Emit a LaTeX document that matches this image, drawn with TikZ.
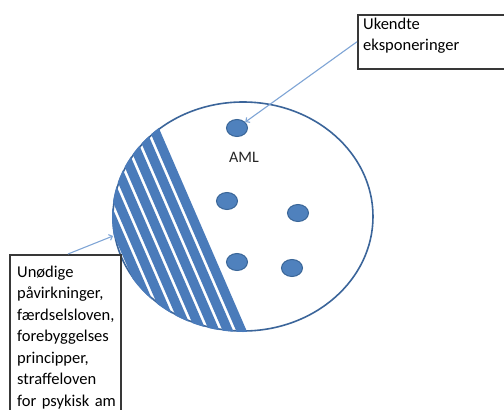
\documentclass[tikz,border=0pt]{standalone}
\usepackage{fontspec}
\setmainfont{Carlito}
\usetikzlibrary{arrows.meta,shapes.geometric}
\definecolor{dotblue}{HTML}{4F81BD}
\definecolor{dotedge}{HTML}{3A6698}
\definecolor{rim}{HTML}{3B659A}
\definecolor{stripeblue}{HTML}{4A7BBA}
\definecolor{pointer}{HTML}{7FA5D6}
\definecolor{boxline}{HTML}{383838}
\begin{document}
\begin{tikzpicture}[x=1pt,y=-1pt,
  note/.style={draw=boxline, line width=1.5pt, inner sep=0pt, fill=white},
  notetext/.style={anchor=base west, inner sep=0pt, text width=150pt, align=left,
    font=\fontsize{16.5}{21.5}\selectfont, text=black},
  agent/.style={ellipse, minimum width=21pt, minimum height=17pt, inner sep=0pt,
    fill=dotblue, draw=dotedge, line width=1pt},
  stripe/.style={stripeblue, line width=9.6pt, line cap=butt},
  pointerline/.style={pointer, line width=1.1pt, -{Straight Barb[length=3pt,width=6pt]}}]
\useasboundingbox (0,0) rectangle (504,410);
\fill[white] (0,0) rectangle (504,410);

% population circle
\node[ellipse, minimum width=260pt, minimum height=229pt, inner sep=0pt,
      draw=rim, line width=1.6pt] (ring) at (243,216.5) {};

% hatched sector on the left side of the circle
\begin{scope}
  \clip (243,216.5) ellipse [x radius=131pt, y radius=115.5pt];
  \foreach \k in {0,...,7}
    \draw[stripe] ({131.5-13.5*\k},77) -- ({244.1-13.5*\k},337);
\end{scope}

% exposures inside the circle
\node[agent] (d1) at (237,128) {};
\node[agent] (d2) at (227,201) {};
\node[agent] (d3) at (298,213) {};
\node[agent] (d4) at (237,262) {};
\node[agent] (d5) at (292,268) {};
\node[font=\fontsize{16}{19}\selectfont, text=black!85] (aml) at (244,157) {AML};

% labels
\node[note, anchor=north west, minimum width=153pt, minimum height=54pt] (ukbox) at (357,14) {};
\node[notetext] (uktext) at (363,29) {Ukendte\\eksponeringer};

\node[note, anchor=north west, minimum width=111pt, minimum height=200pt] (unbox) at (9,254) {};
\node[notetext] (untext) at (17,277) {Unødige\\påvirkninger,\\færdselsloven,\\forebyggelses\\principper,\\straffeloven\\for psykisk am};

% pointers
\coordinate (unstart) at ([xshift=59pt]unbox.north west);
\coordinate (aimL) at (113,236);
\draw[pointerline] (ukbox.west) -- (d1);
\draw[pointerline] (unstart) -- (aimL);
\end{tikzpicture}
\end{document}
